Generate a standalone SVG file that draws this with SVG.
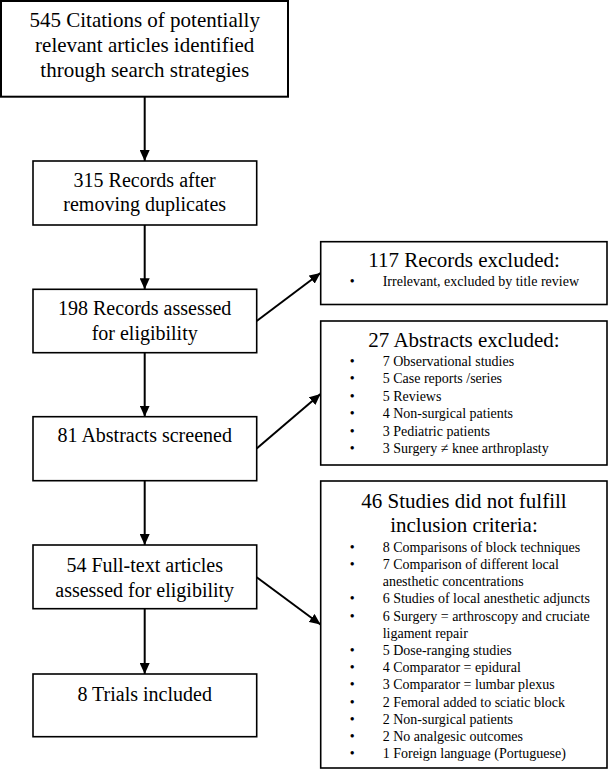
<svg xmlns="http://www.w3.org/2000/svg" width="609" height="770" viewBox="0 0 609 770" font-family="'Liberation Serif', serif">
<style>
text{font-family:"Liberation Serif",serif;fill:#000}
.box{fill:#fff;stroke:#000;stroke-width:1.6}
.t{font-size:20px;text-anchor:middle}
.t1{font-size:21px}
.h{font-size:21px;text-anchor:middle}
.b{font-size:14px}
.dot{font-size:14px;text-anchor:middle}
.c{stroke:#000;stroke-width:2;fill:none}
</style>
<defs>
<marker id="ah" markerUnits="userSpaceOnUse" markerWidth="11" markerHeight="10" refX="11" refY="5" orient="auto">
<path d="M0,0 L11,5 L0,10 z" fill="#000"/>
</marker>
</defs>
<g id="connectors">
<line class="c" x1="144.7" y1="97" x2="144.7" y2="161" marker-end="url(#ah)"/>
<line class="c" x1="144.7" y1="225" x2="144.7" y2="289.3" marker-end="url(#ah)"/>
<line class="c" x1="144.7" y1="352.7" x2="144.7" y2="416.7" marker-end="url(#ah)"/>
<line class="c" x1="144.7" y1="480.7" x2="144.7" y2="545" marker-end="url(#ah)"/>
<line class="c" x1="144.7" y1="608.7" x2="144.7" y2="674" marker-end="url(#ah)"/>
<line class="c" x1="256.7" y1="321" x2="320.5" y2="273" marker-end="url(#ah)"/>
<line class="c" x1="256.7" y1="448.5" x2="320.5" y2="394" marker-end="url(#ah)"/>
<line class="c" x1="256.7" y1="577.3" x2="320.5" y2="624.5" marker-end="url(#ah)"/>
</g>
<g id="n1">
<rect class="box" x="1" y="1" width="287" height="95.7" style="stroke-width:2"/>
<text class="t t1" x="144.7" y="27.3" font-family="Liberation Serif">545 Citations of potentially</text>
<text class="t t1" x="144.7" y="52.3" font-family="Liberation Serif">relevant articles identified</text>
<text class="t t1" x="144.7" y="76.7" font-family="Liberation Serif">through search strategies</text>
</g>
<g id="n2">
<rect class="box" x="33" y="161" width="223.7" height="64"/>
<text class="t" x="144.7" y="186.7">315 Records after</text>
<text class="t" x="144.7" y="210.7">removing duplicates</text>
</g>
<g id="n3">
<rect class="box" x="33" y="289.3" width="223.7" height="63.4"/>
<text class="t" x="144.7" y="315">198 Records assessed</text>
<text class="t" x="144.7" y="339.5">for eligibility</text>
</g>
<g id="n4">
<rect class="box" x="33" y="416.7" width="223.7" height="64"/>
<text class="t" x="144.7" y="441.7">81 Abstracts screened</text>
</g>
<g id="n5">
<rect class="box" x="33" y="545" width="223.7" height="63.7"/>
<text class="t" x="144.7" y="571.7">54 Full-text articles</text>
<text class="t" x="144.7" y="596.7">assessed for eligibility</text>
</g>
<g id="n6">
<rect class="box" x="33" y="674" width="223.7" height="62.7"/>
<text class="t" x="144.7" y="700.7">8 Trials included</text>
</g>
<g id="r1">
<rect class="box" x="320.7" y="241.7" width="286.3" height="62.8"/>
<text class="h" x="464" y="266.7">117 Records excluded:</text>
<text class="dot" x="352.3" y="286">•</text>
<text class="b" x="382.7" y="286">Irrelevant, excluded by title review</text>
</g>
<g id="r2">
<rect class="box" x="320.7" y="321" width="286.3" height="144"/>
<text class="h" x="464" y="347.3">27 Abstracts excluded:</text>
<text class="dot" x="352.3" y="366">•</text><text class="b" x="382.7" y="366">7 Observational studies</text>
<text class="dot" x="352.3" y="383.4">•</text><text class="b" x="382.7" y="383.4">5 Case reports /series</text>
<text class="dot" x="352.3" y="400.8">•</text><text class="b" x="382.7" y="400.8">5 Reviews</text>
<text class="dot" x="352.3" y="418.2">•</text><text class="b" x="382.7" y="418.2">4 Non-surgical patients</text>
<text class="dot" x="352.3" y="435.6">•</text><text class="b" x="382.7" y="435.6">3 Pediatric patients</text>
<text class="dot" x="352.3" y="453">•</text><text class="b" x="382.7" y="453">3 Surgery ≠ knee arthroplasty</text>
</g>
<g id="r3">
<rect class="box" x="320.7" y="481" width="286.3" height="287"/>
<text class="h" x="464" y="508.3">46 Studies did not fulfill</text>
<text class="h" x="464" y="531.7">inclusion criteria:</text>
<text class="dot" x="352.3" y="551.7">•</text><text class="b" x="382.7" y="551.7">8 Comparisons of block techniques</text>
<text class="dot" x="352.3" y="568.9">•</text><text class="b" x="382.7" y="568.9">7 Comparison of different local</text>
<text class="b" x="382.7" y="586.1">anesthetic concentrations</text>
<text class="dot" x="352.3" y="603.3">•</text><text class="b" x="382.7" y="603.3">6 Studies of local anesthetic adjuncts</text>
<text class="dot" x="352.3" y="620.5">•</text><text class="b" x="382.7" y="620.5">6 Surgery = arthroscopy and cruciate</text>
<text class="b" x="382.7" y="637.7">ligament repair</text>
<text class="dot" x="352.3" y="654.9">•</text><text class="b" x="382.7" y="654.9">5 Dose-ranging studies</text>
<text class="dot" x="352.3" y="672.1">•</text><text class="b" x="382.7" y="672.1">4 Comparator = epidural</text>
<text class="dot" x="352.3" y="689.3">•</text><text class="b" x="382.7" y="689.3">3 Comparator = lumbar plexus</text>
<text class="dot" x="352.3" y="706.5">•</text><text class="b" x="382.7" y="706.5">2 Femoral added to sciatic block</text>
<text class="dot" x="352.3" y="723.7">•</text><text class="b" x="382.7" y="723.7">2 Non-surgical patients</text>
<text class="dot" x="352.3" y="740.9">•</text><text class="b" x="382.7" y="740.9">2 No analgesic outcomes</text>
<text class="dot" x="352.3" y="758.1">•</text><text class="b" x="382.7" y="758.1">1 Foreign language (Portuguese)</text>
</g>
</svg>
